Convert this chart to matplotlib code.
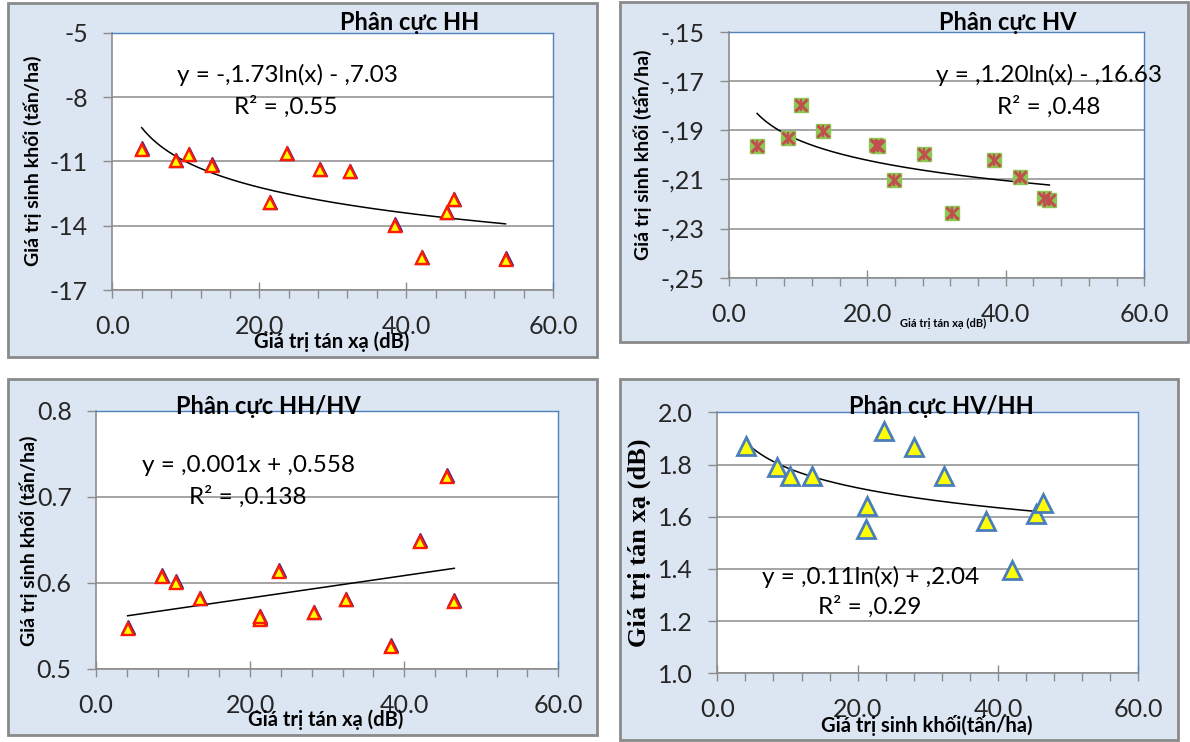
import numpy as np
import matplotlib
matplotlib.use('Agg')
import matplotlib.pyplot as plt
import matplotlib.transforms as mtransforms
from matplotlib.patches import Rectangle
from matplotlib.ticker import MultipleLocator

plt.rcParams['font.family'] = ['Lato', 'DejaVu Sans']

W, H = 1190, 742
GRAY = '#8c8c8c'
BLUE = '#4f81bd'
PANEL_BG = '#dce6f2'

# Phân cực HH
hh_x = [4.0, 8.6, 10.5, 13.5, 21.4, 23.8, 28.2, 32.3, 38.4, 42.1, 45.5, 46.5, 53.5]
hh_y = [-10.45, -10.99, -10.71, -11.21, -12.96, -10.67, -11.41, -11.52, -14.0, -15.53, -13.43, -12.81, -15.6]
hh_a, hh_b = -1.73, -7.03

# Phân cực HV
hv_x = [4.1, 8.6, 10.5, 13.6, 21.2, 21.5, 23.8, 28.2, 32.3, 38.3, 42.0, 45.5, 46.3]
hv_y = [-19.65, -19.34, -17.99, -19.03, -19.62, -19.66, -21.01, -19.98, -22.39, -20.22, -20.90, -21.74, -21.85]
hv_a, hv_b = -1.20, -16.63

# Phân cực HH/HV
ratio_x = [4.1, 8.6, 10.4, 13.5, 21.3, 21.3, 23.7, 28.3, 32.4, 38.3, 42.0, 45.5, 46.5]
ratio_y = [0.547, 0.607, 0.600, 0.581, 0.557, 0.560, 0.613, 0.565, 0.580, 0.526, 0.648, 0.723, 0.578]
ratio_slope, ratio_icpt = 0.0013, 0.5565

# Phân cực HV/HH
inv_x = [4.1, 8.5, 10.3, 13.5, 21.3, 21.2, 23.7, 28.1, 32.3, 38.3, 42.0, 45.4, 46.4]
inv_y = [1.871, 1.792, 1.756, 1.756, 1.641, 1.552, 1.928, 1.868, 1.756, 1.584, 1.396, 1.610, 1.651]
inv_a, inv_b = -0.11, 2.04

x_ticks = [0, 20, 40, 60]
x_tick_labels = ['0.0', '20.0', '40.0', '60.0']
hh_ticks = [-17, -14, -11, -8, -5]
hh_tick_labels = ['-17', '-14', '-11', '-8', '-5']
hv_ticks = [-25, -23, -21, -19, -17, -15]
hv_tick_labels = ['-,25', '-,23', '-,21', '-,19', '-,17', '-,15']
ratio_ticks = [0.5, 0.6, 0.7, 0.8]
ratio_tick_labels = ['0.5', '0.6', '0.7', '0.8']
inv_ticks = [1.0, 1.2, 1.4, 1.6, 1.8, 2.0]
inv_tick_labels = ['1.0', '1.2', '1.4', '1.6', '1.8', '2.0']


def fx(x):
    return x / W


def fy(y):
    return 1 - y / H


def box(l, t, r, b):
    return [l / W, 1 - b / H, (r - l) / W, (b - t) / H]


def style_axes(ax, ylim, yticks, ylabels):
    ax.set_zorder(2)
    ax.set_xlim(0, 60)
    ax.set_ylim(*ylim)
    ax.set_xticks(x_ticks)
    ax.set_xticklabels(x_tick_labels)
    ax.xaxis.set_minor_locator(MultipleLocator(4))
    ax.set_yticks(yticks)
    ax.set_yticklabels(ylabels)
    ax.tick_params(axis='x', which='major', direction='inout', length=12, width=1,
                   color=GRAY, labelsize=18, pad=12, labelcolor='#262626')
    ax.tick_params(axis='x', which='minor', direction='out', length=5.5, width=1, color=GRAY)
    ax.tick_params(axis='y', which='major', direction='out', length=6.5, width=1,
                   color=GRAY, labelsize=18, pad=11, labelcolor='#262626')
    ax.yaxis.grid(True, color=GRAY, lw=1.1)
    ax.set_axisbelow(True)
    for s in ['left', 'bottom']:
        ax.spines[s].set_color(GRAY)
        ax.spines[s].set_linewidth(1.2)
    for s in ['top', 'right']:
        ax.spines[s].set_color(BLUE)
        ax.spines[s].set_linewidth(1)


def log_trend(ax, xs, a, b):
    t = np.linspace(min(xs), max(xs), 200)
    ax.plot(t, a * np.log(t) + b, color='black', lw=1.1, zorder=3)


def tri_markers(ax, xs, ys):
    # purple rim on top, yellow triangle with red edge in front
    up = mtransforms.offset_copy(ax.transData, fig=fig, x=0, y=1.5, units='dots')
    ax.plot(xs, ys, '^', ms=10.5, color='#4b1f8c', mec='#4b1f8c', transform=up, zorder=4)
    ax.plot(xs, ys, '^', ms=9, mfc='#ffff00', mec='#ff1a00', mew=1.7, zorder=5)


def label(x, y, s, size, **kw):
    fig.text(fx(x), fy(y), s, ha='center', va='center', fontsize=size, zorder=3, **kw)


fig = plt.figure(figsize=(W / 100, H / 100), dpi=100)
fig.patch.set_facecolor('white')

for l, t, r, b in [(8, 3, 597, 357), (620, 2, 1188, 342), (8, 379, 597, 735), (620, 379, 1178, 740)]:
    fig.patches.append(Rectangle((l / W, 1 - b / H), (r - l) / W, (b - t) / H,
                                 transform=fig.transFigure, facecolor=PANEL_BG,
                                 edgecolor='#8a8a8a', lw=2, zorder=-1))

# --- HH ---
ax1 = fig.add_axes(box(112.3, 32.7, 553.3, 290))
style_axes(ax1, (-17, -5), hh_ticks, hh_tick_labels)
log_trend(ax1, hh_x, hh_a, hh_b)
tri_markers(ax1, hh_x, hh_y)
label(410, 23, 'Phân cực HH', 17, fontweight='bold')
label(287, 75, 'y = -,1.73ln(x) - ,7.03', 17.5)
label(286, 107, 'R² = ,0.55', 17.5)
label(332, 342, 'Giá trị tán xạ (dB)', 14.5, fontweight='bold')
label(33, 161, 'Giá trị sinh khối (tấn/ha)', 14, fontweight='bold', rotation=90)

# --- HV ---
ax2 = fig.add_axes(box(728.7, 31.7, 1144.3, 277.7))
style_axes(ax2, (-25, -15), hv_ticks, hv_tick_labels)
log_trend(ax2, hv_x, hv_a, hv_b)
ax2.plot(hv_x, hv_y, 's', ms=10.5, color='#8dc752', zorder=4)
ax2.plot(hv_x, hv_y, 'x', ms=8.5, color='#c0504d', mew=2.2, zorder=5)
ax2.plot(hv_x, hv_y, '|', ms=9, color='#c0504d', mew=1.6, zorder=5)
label(1008, 23, 'Phân cực HV', 17, fontweight='bold')
label(1049, 75, 'y = ,1.20ln(x) - ,16.63', 17.5)
label(1049, 107, 'R² = ,0.48', 17.5)
label(943, 323, 'Giá trị tán xạ (dB)', 8, fontweight='bold')
label(643, 155, 'Giá trị sinh khối (tấn/ha)', 14, fontweight='bold', rotation=90)

# --- HH/HV ---
ax3 = fig.add_axes(box(96, 410.7, 558.3, 669))
style_axes(ax3, (0.5, 0.8), ratio_ticks, ratio_tick_labels)
t = np.linspace(min(ratio_x), max(ratio_x), 2)
ax3.plot(t, ratio_slope * t + ratio_icpt, color='black', lw=1.1, zorder=3)
tri_markers(ax3, ratio_x, ratio_y)
label(268, 407, 'Phân cực HH/HV', 17, fontweight='bold')
label(248, 465, 'y = ,0.001x + ,0.558', 17.5)
label(248, 497, 'R² = ,0.138', 17.5)
label(326, 720, 'Giá trị tán xạ (dB)', 14.5, fontweight='bold')
label(29, 541, 'Giá trị sinh khối (tấn/ha)', 14, fontweight='bold', rotation=90)

# --- HV/HH ---
ax4 = fig.add_axes(box(717.3, 412.3, 1138.3, 673.3))
style_axes(ax4, (1.0, 2.0), inv_ticks, inv_tick_labels)
log_trend(ax4, inv_x, inv_a, inv_b)
ax4.plot(inv_x, inv_y, '^', ms=13, mfc='#ffff00', mec='#4a7ebb', mew=2, zorder=5)
label(941, 407, 'Phân cực HV/HH', 17, fontweight='bold')
label(871, 577, 'y = ,0.11ln(x) + ,2.04', 17.5)
label(870, 607, 'R² = ,0.29', 17.5)
label(927, 725, 'Giá trị sinh khối(tấn/ha)', 14.5, fontweight='bold')
label(639, 543, 'Giá trị tán xạ (dB)', 19, fontweight='bold', rotation=90,
      family=['Liberation Serif', 'DejaVu Serif'])

fig.savefig('out.png', dpi=100, facecolor=fig.get_facecolor())
